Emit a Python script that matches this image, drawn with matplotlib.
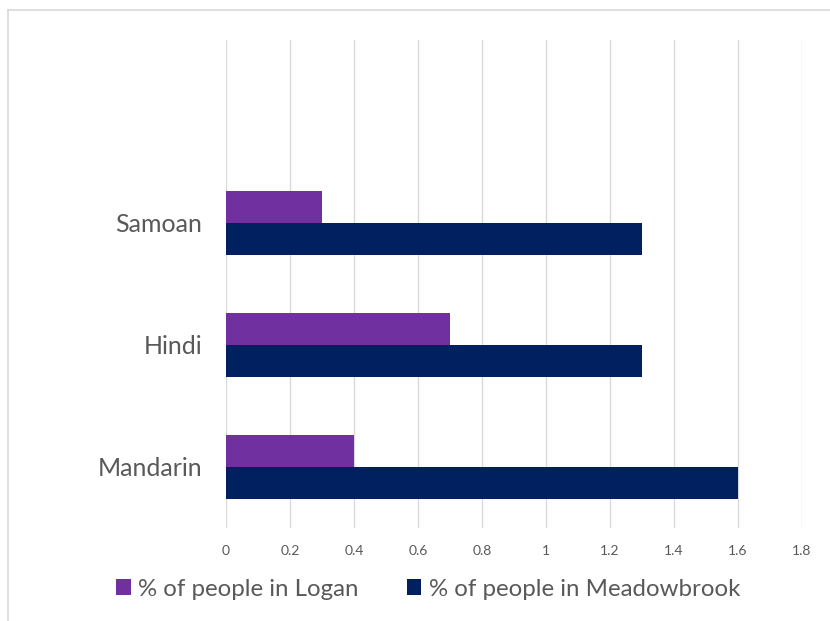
import matplotlib
matplotlib.use("Agg")
import matplotlib.pyplot as plt
from matplotlib.lines import Line2D
import numpy as np

categories = ["Mandarin", "Hindi", "Samoan"]
logan = [0.4, 0.7, 0.3]
meadowbrook = [1.6, 1.3, 1.3]
series_names = ["% of people in Logan", "% of people in Meadowbrook"]
xticks = [0, 0.2, 0.4, 0.6, 0.8, 1, 1.2, 1.4, 1.6, 1.8]
xtick_labels = ["0", "0.2", "0.4", "0.6", "0.8", "1", "1.2", "1.4", "1.6", "1.8"]

plt.rcParams['font.family'] = ['Lato', 'DejaVu Sans']
text_color = "#595959"

fig = plt.figure(figsize=(8.3, 6.21), dpi=100)
# chart border (left and top edges visible)
bx, by = 8/830, 1-10/621
fig.add_artist(Line2D([bx, bx], [0, by], transform=fig.transFigure, color="#d9d9d9", linewidth=1.2))
fig.add_artist(Line2D([bx, 1], [by, by], transform=fig.transFigure, color="#d9d9d9", linewidth=1.2))

ax = fig.add_axes([226/830, 1-528/621, 576/830, 488/621])

y = np.arange(len(categories))
h = 0.262
ax.barh(y + h/2, logan, height=h, color="#7030A0", label=series_names[0], zorder=3)
ax.barh(y - h/2, meadowbrook, height=h, color="#002060", label=series_names[1], zorder=3)

ax.set_xlim(0, 1.8)
ax.set_ylim(-0.5, 3.5)
ax.set_xticks(xticks)
ax.set_xticklabels(xtick_labels, fontsize=10, color=text_color)
ax.tick_params(axis='x', length=0, pad=12)
ax.set_yticks(y)
ax.set_yticklabels(categories, fontsize=18, color=text_color)
ax.tick_params(axis='y', length=0, pad=17)
ax.grid(axis='x', color="#d9d9d9", linewidth=1.0, zorder=0)
for s in ax.spines.values():
    s.set_visible(False)

leg = fig.legend(loc='center', bbox_to_anchor=(428/830, 1-589/621), ncol=2, frameon=False,
                 fontsize=17.3, handlelength=0.62, handleheight=0.62, handletextpad=0.3,
                 columnspacing=2.0)
for t in leg.get_texts():
    t.set_color(text_color)

fig.savefig("out.png", dpi=100)
